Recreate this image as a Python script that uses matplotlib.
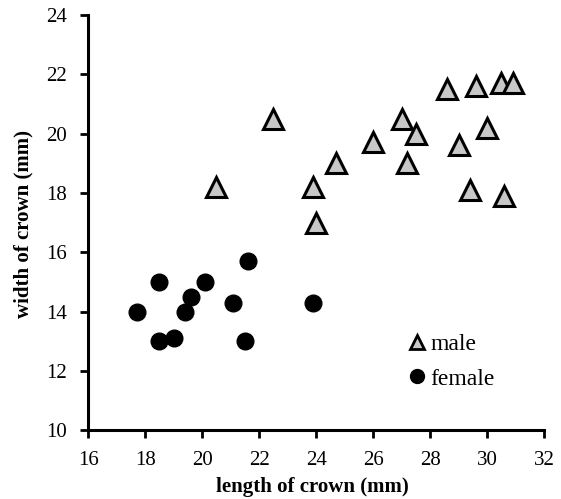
import matplotlib
matplotlib.use("Agg")
import matplotlib.pyplot as plt
from matplotlib.lines import Line2D

male_x = [20.5, 22.5, 23.9, 24.0, 24.7, 26.0, 27.0, 27.5, 27.2, 28.6, 29.6, 30.5, 30.9, 30.0, 29.0, 29.4, 30.6]
male_y = [18.2, 20.5, 18.2, 17.0, 19.0, 19.7, 20.5, 20.0, 19.0, 21.5, 21.6, 21.7, 21.7, 20.2, 19.6, 18.1, 17.9]
female_x = [17.7, 18.5, 18.5, 19.0, 19.4, 19.6, 20.1, 21.1, 21.6, 21.5, 23.9]
female_y = [14.0, 15.0, 13.0, 13.1, 14.0, 14.5, 15.0, 14.3, 15.7, 13.0, 14.3]
x_ticks = [16, 18, 20, 22, 24, 26, 28, 30, 32]
y_ticks = [10, 12, 14, 16, 18, 20, 22, 24]

plt.rcParams['font.family'] = ['Liberation Serif', 'DejaVu Serif']

fig = plt.figure(figsize=(5.61, 4.99), dpi=100)
ax = fig.add_axes([0.157, 0.138, 0.813, 0.832])

ax.plot(female_x, female_y, linestyle='none', marker='o', ms=12,
        mfc='black', mec='black', clip_on=False)
ax.plot(male_x, male_y, linestyle='none', marker='^', ms=14.5,
        mfc='#c8c8c8', mec='black', mew=2.2, clip_on=False)

ax.set_xlim(16, 32)
ax.set_ylim(10, 24)
ax.set_xticks(x_ticks)
ax.set_yticks(y_ticks)
ax.tick_params(direction='out', length=6, width=2, labelsize=15, colors='black')
ax.tick_params(axis='x', pad=9)
ax.tick_params(axis='y', pad=9)
for s in ['top', 'right']:
    ax.spines[s].set_visible(False)
for s in ['left', 'bottom']:
    ax.spines[s].set_linewidth(2.2)

ax.set_xlabel('length of crown (mm)', fontsize=15, fontweight='bold')
ax.set_ylabel('width of crown (mm)', fontsize=15, fontweight='bold')
ax.xaxis.set_label_coords(0.491, -0.112)
ax.yaxis.set_label_coords(-0.12, 0.497)

handles = [
    Line2D([], [], linestyle='none', marker='^', ms=9.5, mfc='#c8c8c8', mec='black', mew=2.0),
    Line2D([], [], linestyle='none', marker='o', ms=10, mfc='black', mec='black'),
]
ax.legend(handles, ['male', 'female'], loc='lower left', bbox_to_anchor=(0.683, 0.069),
          frameon=False, fontsize=17, handlelength=0.5, handletextpad=0.3,
          labelspacing=0.56, borderpad=0)

fig.savefig('out.png', dpi=100)
